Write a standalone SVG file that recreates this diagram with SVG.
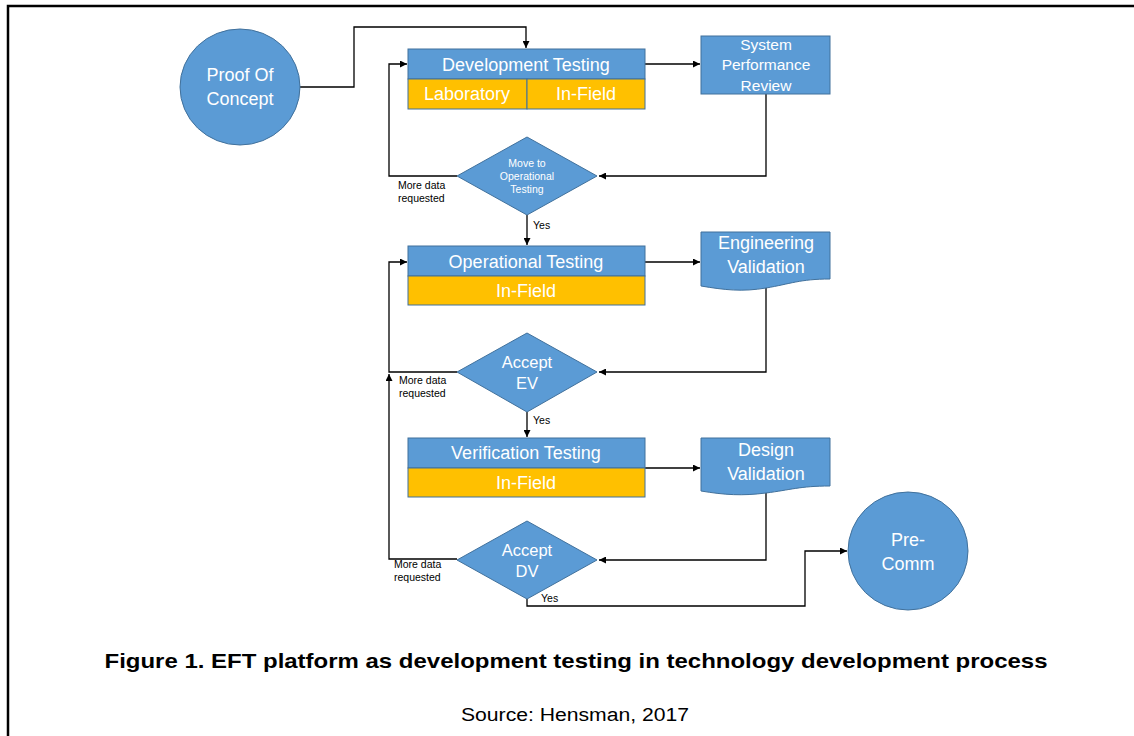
<svg xmlns="http://www.w3.org/2000/svg" width="1134" height="736" viewBox="0 0 1134 736">
<defs>
<style>
.blue{fill:#5B9BD5;stroke:#41719C;stroke-width:1}
.yel{fill:#FFC000;stroke:#41719C;stroke-width:1}
.t{font-family:"Liberation Sans",Arial,sans-serif;fill:#fff;text-anchor:middle}
.big{font-size:18px}
.sm{font-size:10.5px}
.lab{font-family:"Liberation Sans",Arial,sans-serif;font-size:10.5px;fill:#000}
.c{fill:none;stroke:#000;stroke-width:1.3}
</style>
<marker id="ah" viewBox="0 0 10 10" refX="10" refY="5" markerWidth="7" markerHeight="7" markerUnits="userSpaceOnUse" orient="auto">
<path d="M0,0 L10,5 L0,10 z" fill="#000"/>
</marker>
</defs>
<rect width="1134" height="736" fill="#fff"/>
<path d="M8,736 V6 H1134" fill="none" stroke="#000" stroke-width="2.5"/>

<g id="connectors">
<path class="c" d="M300,87 H354 V27 H526 V48" marker-end="url(#ah)"/>
<path class="c" d="M645,64 H700" marker-end="url(#ah)"/>
<path class="c" d="M766,94 V176 H599" marker-end="url(#ah)"/>
<path class="c" d="M457,176 H389 V64 H407" marker-end="url(#ah)"/>
<path class="c" d="M527,215 V245" marker-end="url(#ah)"/>
<path class="c" d="M645,262 H700" marker-end="url(#ah)"/>
<path class="c" d="M766,286 V372 H599" marker-end="url(#ah)"/>
<path class="c" d="M457,372 H389 V262 H407" marker-end="url(#ah)"/>
<path class="c" d="M527,412 V437" marker-end="url(#ah)"/>
<path class="c" d="M643,468 H700" marker-end="url(#ah)"/>
<path class="c" d="M766,490 V560 H599" marker-end="url(#ah)"/>
<path class="c" d="M457,559 H389 V374" marker-end="url(#ah)"/>
<path class="c" d="M527,599 V606 H805 V551 H847" marker-end="url(#ah)"/>
<text class="lab" x="398" y="189">More data</text>
<text class="lab" x="398" y="202">requested</text>
<text class="lab" x="533" y="229">Yes</text>
<text class="lab" x="399" y="384">More data</text>
<text class="lab" x="399" y="397">requested</text>
<text class="lab" x="533" y="424">Yes</text>
<text class="lab" x="394" y="568">More data</text>
<text class="lab" x="394" y="581">requested</text>
<text class="lab" x="541" y="602">Yes</text>
</g>

<g id="proof-of-concept">
<ellipse class="blue" cx="240" cy="87" rx="60" ry="58"/>
<text class="t big" x="240" y="81">Proof Of</text>
<text class="t big" x="240" y="105">Concept</text>
</g>

<g id="development-testing">
<rect class="blue" x="408" y="49" width="237" height="30"/>
<rect class="yel" x="408" y="79" width="119" height="30"/>
<rect class="yel" x="527" y="79" width="118" height="30"/>
<text class="t big" x="526" y="71">Development Testing</text>
<text class="t big" x="467" y="100">Laboratory</text>
<text class="t big" x="586" y="100">In-Field</text>
</g>

<g id="system-performance-review">
<rect class="blue" x="701" y="36" width="129" height="58"/>
<text class="t" font-size="15.5" x="766" y="50">System</text>
<text class="t" font-size="15.5" x="766" y="70">Performance</text>
<text class="t" font-size="15.5" x="766" y="91">Review</text>
</g>

<g id="move-to-operational-testing">
<path class="blue" d="M527,137 L597,176 L527,215 L457,176 z"/>
<text class="t sm" x="527" y="167">Move to</text>
<text class="t sm" x="527" y="180">Operational</text>
<text class="t sm" x="527" y="193">Testing</text>
</g>

<g id="operational-testing">
<rect class="blue" x="408" y="246" width="237" height="30"/>
<rect class="yel" x="408" y="276" width="237" height="29"/>
<text class="t big" x="526" y="268">Operational Testing</text>
<text class="t big" x="526" y="297">In-Field</text>
</g>

<g id="engineering-validation">
<path class="blue" d="M701,232 H830 V279 C800,279 790,284 766,288 C742,292 725,290 701,286 z"/>
<text class="t big" x="766" y="249">Engineering</text>
<text class="t big" x="766" y="273">Validation</text>
</g>

<g id="accept-ev">
<path class="blue" d="M527,333 L597,372 L527,412 L457,372 z"/>
<text class="t" font-size="16.5" x="527" y="368">Accept</text>
<text class="t" font-size="16.5" x="527" y="389">EV</text>
</g>

<g id="verification-testing">
<rect class="blue" x="408" y="438" width="237" height="30"/>
<rect class="yel" x="408" y="468" width="237" height="29"/>
<text class="t big" x="526" y="459">Verification Testing</text>
<text class="t big" x="526" y="489">In-Field</text>
</g>

<g id="design-validation">
<path class="blue" d="M701,438 H830 V486 C800,486 790,490 766,493 C742,496 725,495 701,491 z"/>
<text class="t big" x="766" y="456">Design</text>
<text class="t big" x="766" y="480">Validation</text>
</g>

<g id="accept-dv">
<path class="blue" d="M527,521 L597,560 L527,599 L457,560 z"/>
<text class="t" font-size="16.5" x="527" y="556">Accept</text>
<text class="t" font-size="16.5" x="527" y="577">DV</text>
</g>

<g id="pre-comm">
<ellipse class="blue" cx="908" cy="551" rx="60" ry="59"/>
<text class="t big" x="908" y="546">Pre-</text>
<text class="t big" x="908" y="570">Comm</text>
</g>

<text x="576" y="668" font-family="'Liberation Sans',Arial,sans-serif" font-size="21" font-weight="bold" text-anchor="middle" fill="#000" textLength="943" lengthAdjust="spacingAndGlyphs">Figure 1. EFT platform as development testing in technology development process</text>
<text x="575" y="721" font-family="'Liberation Sans',Arial,sans-serif" font-size="18" text-anchor="middle" fill="#000" textLength="228" lengthAdjust="spacingAndGlyphs">Source: Hensman, 2017</text>
</svg>
